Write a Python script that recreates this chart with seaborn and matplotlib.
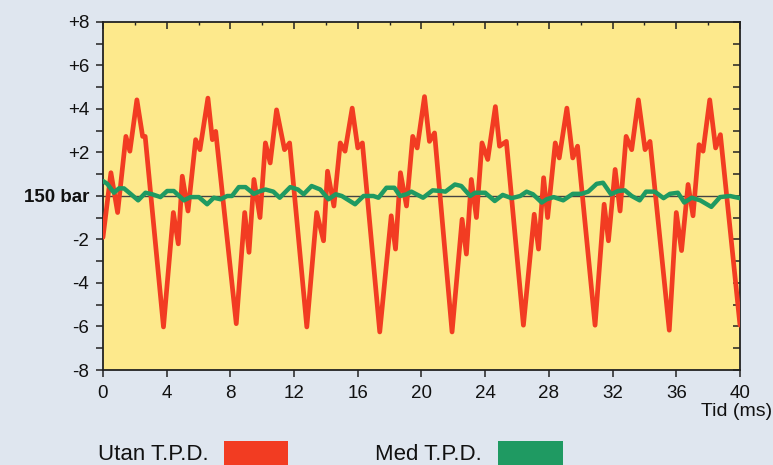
import pandas as pd
import matplotlib.pyplot as plt
import seaborn as sns
from matplotlib.patches import Rectangle
from matplotlib.ticker import MultipleLocator

# pressure deviation around 150 bar
t_utan = [0.0, 0.5, 0.92, 1.44, 1.69, 2.13, 2.49, 2.65, 3.8,
          4.42, 4.73, 4.98, 5.34, 5.82, 6.09, 6.59, 6.87, 7.08, 8.37,
          8.9, 9.17, 9.48, 9.86, 10.2, 10.5, 10.9, 11.4, 11.72, 12.8,
          13.42, 13.85, 14.1, 14.5, 14.9, 15.2, 15.65, 16.0, 16.29, 17.38,
          18.1, 18.37, 18.68, 19.06, 19.45, 19.73, 20.19, 20.5, 20.82, 21.92,
          22.55, 22.82, 23.13, 23.45, 23.8, 24.16, 24.64, 24.9, 25.33, 26.4,
          27.08, 27.35, 27.67, 27.92, 28.4, 28.65, 29.13, 29.5, 29.8, 30.9,
          31.47, 31.74, 32.16, 32.47, 32.85, 33.2, 33.62, 34.04, 34.35, 35.56,
          36.0, 36.33, 36.74, 37.05, 37.43, 37.68, 38.1, 38.47, 38.77, 40.0]
p_utan = [-1.9, 1.07, -0.76, 2.74, 2.06, 4.42, 2.74, 2.74, -6.02,
          -0.76, -2.2, 0.91, -0.69, 2.59, 2.13, 4.5, 2.59, 2.97, -5.87,
          -0.76, -2.59, 0.76, -0.99, 2.44, 1.52, 3.96, 2.13, 2.44, -6.02,
          -0.76, -2.06, 1.14, -0.46, 2.44, 2.06, 4.04, 2.21, 2.44, -6.25,
          -0.91, -2.44, 1.07, -0.46, 2.74, 2.21, 4.57, 2.51, 2.9, -6.25,
          -1.07, -2.67, 0.76, -0.99, 2.44, 1.68, 4.11, 2.29, 2.51, -5.94,
          -0.84, -2.44, 0.84, -0.99, 2.44, 1.75, 4.04, 1.75, 2.29, -5.94,
          -0.38, -2.06, 1.22, -0.69, 2.74, 2.13, 4.42, 2.13, 2.51, -6.17,
          -0.76, -2.51, 0.53, -0.91, 2.36, 2.06, 4.42, 2.21, 2.82, -5.94]

t_med = [0, 0.27, 0.69, 1.0, 1.32, 1.73, 2.21, 2.67, 3.09, 3.61,
         4.03, 4.45, 5.08, 5.5, 6.02, 6.54, 6.96, 7.38, 7.8, 8.1,
         8.53, 8.95, 9.47, 9.78, 10.2, 10.7, 11.1, 11.76, 12.24, 12.6,
         13.1, 13.64, 14.16, 14.62, 15.0, 15.83, 16.36, 16.98, 17.3, 17.8,
         18.3, 18.65, 19.06, 19.37, 20.1, 20.7, 21.2, 21.5, 22.1, 22.5,
         23.06, 23.37, 24.0, 24.6, 25.1, 25.66, 26.2, 26.6, 27.0, 27.55,
         27.86, 28.3, 28.9, 29.5, 30.05, 30.47, 31.0, 31.4, 31.9, 32.35,
         32.77, 33.2, 33.7, 34.1, 34.65, 35.2, 35.6, 36.1, 36.5, 36.97,
         37.5, 38.2, 38.75, 39.37, 40.0]
p_med = [0.69, 0.56, 0.15, 0.35, 0.35, 0.1, -0.2, 0.15, 0.08, -0.05,
         0.23, 0.23, -0.2, -0.05, -0.05, -0.38, -0.08, -0.15, 0, 0,
         0.41, 0.41, 0.1, 0.2, 0.3, 0.2, -0.08, 0.41, 0.3, 0.08,
         0.46, 0.3, -0.15, 0.08, 0, -0.38, 0, 0, -0.08, 0.38,
         0.38, 0, 0.08, 0.2, -0.08, 0.26, 0.23, 0.2, 0.53, 0.46,
         0, 0.15, 0.15, -0.23, 0.05, -0.1, 0, 0.2, 0.08, -0.3,
         -0.15, -0.05, -0.2, 0.1, 0.1, 0.2, 0.56, 0.61, 0.08, 0.23,
         0.26, 0, -0.2, 0.2, 0.2, -0.1, 0.1, 0.15, -0.3, -0.08,
         -0.2, -0.5, -0.05, 0, -0.1]

y_ticks = [8, 6, 4, 2, 0, -2, -4, -6, -8]
y_labels = ['+8', '+6', '+4', '+2', '150 bar', '-2', '-4', '-6', '-8']
x_ticks = list(range(0, 41, 4))

red = '#f23c22'
green = '#1f9a62'
bg = '#dfe6ef'

sns.set_style('ticks')
plt.rcParams['font.family'] = ['Liberation Sans', 'DejaVu Sans']

df_utan = pd.DataFrame({'t': t_utan, 'p': p_utan})
df_med = pd.DataFrame({'t': t_med, 'p': p_med})

fig = plt.figure(figsize=(7.73, 4.65), dpi=100, facecolor=bg)
ax = fig.add_axes([0.1332, 0.2043, 0.8241, 0.7484])
ax.set_facecolor('#fde98c')

ax.axhline(0, color='#444444', lw=1.0, zorder=1)
sns.lineplot(data=df_utan, x='t', y='p', ax=ax, color=red, lw=3.4,
             sort=False, estimator=None, zorder=3)
sns.lineplot(data=df_med, x='t', y='p', ax=ax, color=green, lw=3.2,
             sort=False, estimator=None, zorder=4)

ax.set_xlim(0, 40)
ax.set_ylim(-8, 8)
ax.set_xlabel('')
ax.set_ylabel('')
ax.set_xticks(x_ticks)
ax.set_xticklabels([str(v) for v in x_ticks], fontsize=13.5)
ax.set_yticks(y_ticks)
ax.set_yticklabels(y_labels, fontsize=13.5)
ax.get_yticklabels()[4].set_fontweight('bold')
ax.yaxis.set_minor_locator(MultipleLocator(1))
ax.xaxis.set_minor_locator(MultipleLocator(2))

for s in ax.spines.values():
    s.set_color('#222222')
    s.set_linewidth(1.3)

ax.tick_params(axis='both', which='both', colors='#222222', labelcolor='#111111')
ax.tick_params(axis='y', which='both', left=True, right=True, length=5, width=1.1,
               direction='out', pad=5)
ax.tick_params(axis='x', which='major', bottom=True, top=True, length=5, width=1.1,
               direction='out', pad=6)
ax.tick_params(axis='x', which='minor', bottom=False, top=True, length=2.5, width=1.0)

# right and top ticks point inward in the original
for t in ax.yaxis.get_major_ticks() + ax.yaxis.get_minor_ticks():
    t.tick2line.set_marker(0)
    t.tick2line.set_markersize(5)
for t in ax.xaxis.get_major_ticks() + ax.xaxis.get_minor_ticks():
    t.tick2line.set_marker(3)

fig.text(0.999, 0.116, 'Tid (ms)', ha='right', va='center', fontsize=14, color='#111111')

fig.text(0.127, 0.022, 'Utan T.P.D.', ha='left', va='center', fontsize=16, color='#111111')
fig.patches.append(Rectangle((0.29, 0.0), 0.083, 0.052, transform=fig.transFigure,
                             facecolor=red, edgecolor='none'))
fig.text(0.485, 0.022, 'Med T.P.D.', ha='left', va='center', fontsize=16, color='#111111')
fig.patches.append(Rectangle((0.644, 0.0), 0.084, 0.052, transform=fig.transFigure,
                             facecolor=green, edgecolor='none'))

fig.savefig('out.png', dpi=100, facecolor=bg)
